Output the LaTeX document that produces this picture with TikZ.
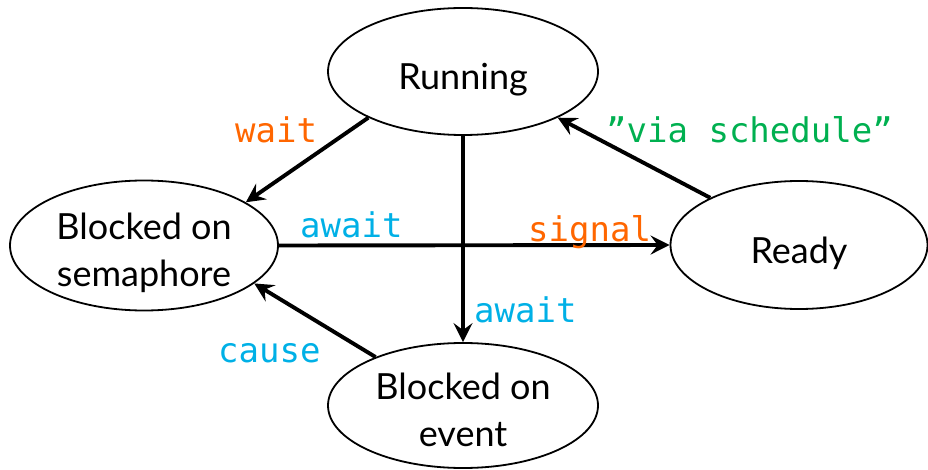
\documentclass[tikz,border=0pt]{standalone}
\usepackage{fontspec}
\setmainfont{Lato}
\newfontfamily\codefont{DejaVu Sans Mono}
\usetikzlibrary{arrows.meta,shapes.geometric}
\definecolor{lblorange}{RGB}{255,102,0}
\definecolor{lblblue}{RGB}{0,176,230}
\definecolor{lblgreen}{RGB}{0,176,80}
\begin{document}
\begin{tikzpicture}[x=1pt,y=-1pt,
  state/.style={ellipse, draw, line width=1.8pt, inner sep=0pt,
    font=\fontsize{36}{47}\selectfont, text height=37pt, text depth=0pt},
  twoline/.style={state, text height=0pt, text depth=12pt},
  trans/.style={line width=3.9pt, -{Stealth[length=19pt,width=19pt,inset=7pt]}},
  lbl/.style={inner sep=0pt, anchor=base west,
    font=\codefont\fontsize{34}{40}\selectfont}]
\useasboundingbox (0,0) rectangle (928,470);

% states
\node[state, minimum width=270pt, minimum height=127pt] (run) at (463,71.5) {Running};
\node[twoline, minimum width=268pt, minimum height=130pt] (sem) at (144,245.5)
  {\begin{tabular}[t]{@{}c@{}}Blocked on\\semaphore\end{tabular}};
\node[state, minimum width=257pt, minimum height=128pt] (ready) at (799,245) {Ready};
\node[twoline, minimum width=270pt, minimum height=125pt] (ev) at (463,405.5)
  {\begin{tabular}[t]{@{}c@{}}Blocked on\\event\end{tabular}};

% transitions
\draw[trans] (run.206) -- (sem.23.6);
\draw[trans] (sem.east) -- (ready.west);
\draw[trans] (run.south) -- (ev.north);
\draw[trans] (ev.151) -- (sem.-19.3);
\draw[trans] (ready.152.7) -- (run.-26.6);

% transition labels
\node[lbl, text=lblorange] (lwait) at (235,143) {wait};
\node[lbl, text=lblblue] (lawaith) at (300,238) {await};
\node[lbl, text=lblorange] (lsignal) at (528,242) {signal};
\node[lbl, text=lblblue] (lawaitv) at (474,322) {await};
\node[lbl, text=lblblue] (lcause) at (218,362) {cause};
\node[lbl, text=lblgreen] (lvia) at (606,143) {”via schedule”};
\end{tikzpicture}
\end{document}
